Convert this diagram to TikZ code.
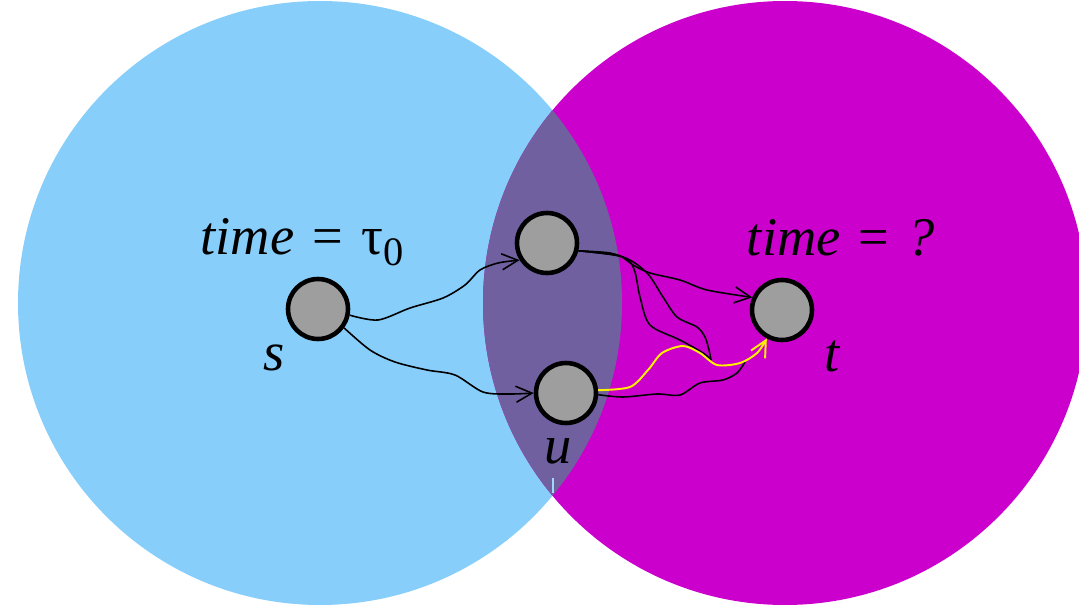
\documentclass[tikz,border=0pt]{standalone}
\usepackage{fontspec}
\setmainfont{Liberation Serif}
\usepackage{tikz}
\usetikzlibrary{arrows.meta}

\definecolor{leftblue}{HTML}{87CEFA}
\definecolor{rightmag}{HTML}{CC00CC}
\definecolor{lensviolet}{HTML}{7060A0}
\definecolor{vtxgray}{HTML}{9E9E9E}

\begin{document}
\begin{tikzpicture}[x=0.02cm,y=-0.02cm,>={Straight Barb[length=3.2mm,width=3.2mm]},
		vtx/.style={circle,draw=black,line width=2.6pt,fill=vtxgray,minimum size=1.2cm,inner sep=0pt},
		lbl/.style={font=\fontsize{31}{34}\selectfont},
		vlabel/.style={font=\fontsize{31}{34}\selectfont\itshape},
		wire/.style={black,line width=0.9pt},
		hot/.style={yellow,line width=1.1pt}]
			\useasboundingbox (0,0) rectangle (1079,605);
			\clip (0,0) rectangle (1079,605);
			\fill[leftblue] (320,303) circle (302);
			\fill[rightmag] (785,303) circle (302);
			\begin{scope}
				\clip (320,303) circle (302);
				\fill[lensviolet] (785,303) circle (302);
			\end{scope}
			\draw[leftblue!80!white,line width=0.6pt] (553,478) -- (553,493);
			\node[vtx] (s) at (318,309) {};
			\node[vtx] (v) at (547,243) {};
			\node[vtx] (u) at (566,393) {};
			\node[vtx] (t) at (782,310) {};
			\node[lbl] (tau) at (302,242) {\textit{time}\,\,=\,\,τ\raisebox{-0.45ex}{\fontsize{23}{26}\selectfont 0}};
			\node[lbl] (qm) at (841,238) {\textit{time}\,\,=\,\,\textit{?}};
			\node[vlabel] (sl) at (274,358) {s};
			\node[vlabel] (tl) at (832,356) {t};
			\node[vlabel] (ul) at (558,451) {u};
			\coordinate (m) at (711,360);
			\coordinate (m2) at (745,362);
			\draw[wire,->] plot[smooth] coordinates {(s.-11) (378,320) (410,308) (443,298) (465,285) (480,270) (498,263) (v.212)};
			\draw[wire,->] plot[smooth] coordinates {(s.-36) (370,350) (395,362) (427,370) (455,375) (483,392) (510,394) (u.180)};
			\draw[wire,->] plot[smooth] coordinates {(v.-14) (600,253) (620,256) (633,265) (650,273) (680,280) (707,290) (t.157)};
			\draw[wire] plot[smooth] coordinates {(v.-14) (610,253) (628,260) (635,272) (640,297) (650,325) (680,340) (703,353) (m)};
			\draw[wire] plot[smooth] coordinates {(v.-14) (623,257) (647,273) (663,297) (677,317) (697,327) (705,337) (709,350) (m)};
			\draw[wire] plot[smooth] coordinates {(u.-3) (623,397) (657,394) (680,395) (700,383) (723,380) (737,373) (m2)};
			\draw[hot,->] plot[smooth] coordinates {(u.5) (630,387) (648,370) (662,353) (683,346) (700,353) (717,365) (740,363) (757,353) (t.242)};
		\end{tikzpicture}
\end{document}
